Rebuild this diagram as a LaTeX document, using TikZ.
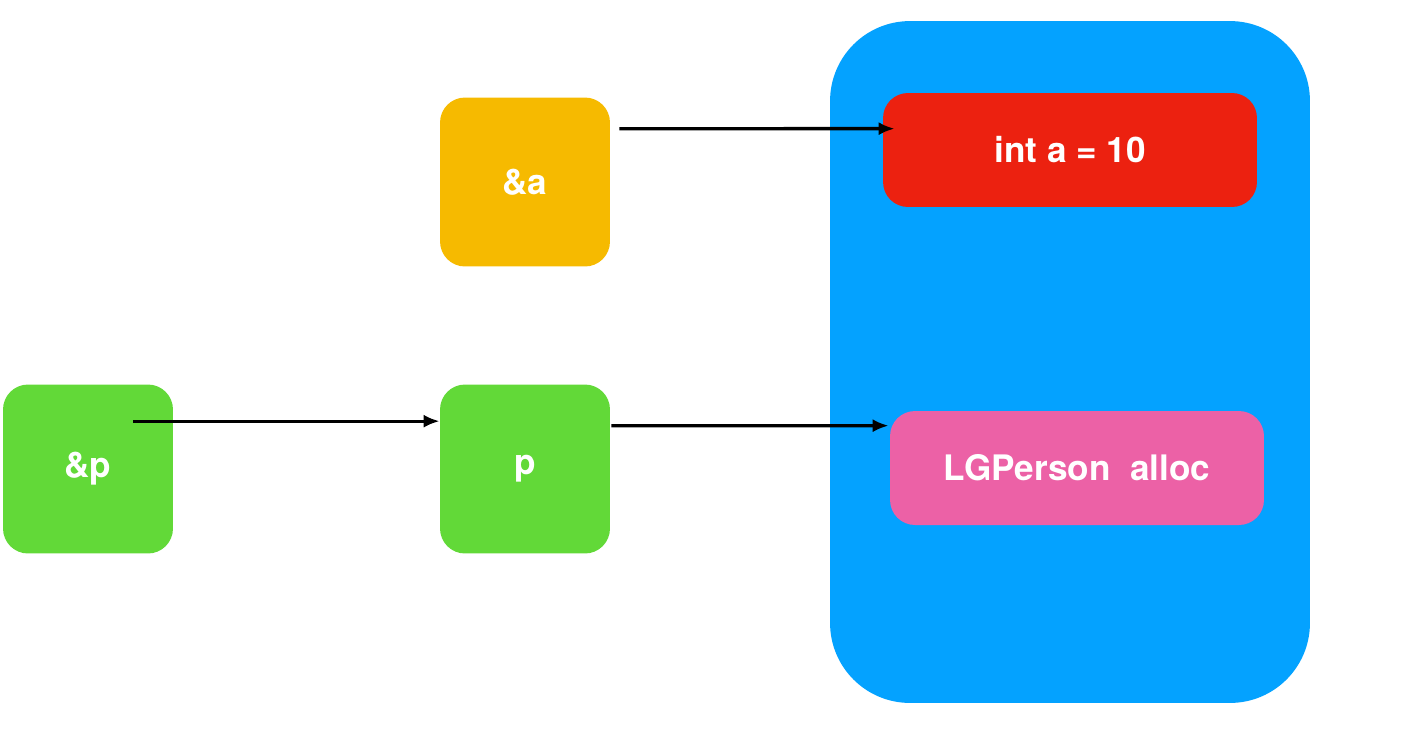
\documentclass[tikz,border=0pt]{standalone}
\usepackage{fontspec}
\setmainfont{TeX Gyre Heros}
\usetikzlibrary{arrows.meta}

\definecolor{heapblue}{HTML}{04A2FF}
\definecolor{varred}{HTML}{EC2110}
\definecolor{objpink}{HTML}{EC61A6}
\definecolor{addrorange}{HTML}{F6BA00}
\definecolor{ptrgreen}{HTML}{62D938}

\begin{document}
\begin{tikzpicture}[x=0.02cm, y=-0.02cm,
    cell/.style={rectangle, rounded corners=0.5cm, minimum width=3.4cm, minimum height=3.38cm,
        text=white, font=\fontsize{20}{24}\selectfont\bfseries},
    slot/.style={cell, minimum width=7.48cm, minimum height=2.28cm},
    ptr/.style={-{Latex[length=0.32cm, width=0.26cm]}, line width=1.9pt}]
    \useasboundingbox (0,0) rectangle (1406,738);

    \node[fill=heapblue, rectangle, rounded corners=1.6cm, minimum width=9.6cm, minimum height=13.64cm] (heap) at (1070,362) {};
    \node[slot, fill=varred] (inta) at (1070,150) {int a = 10};
    \node[slot, fill=objpink] (obj) at (1077,468) {LGPerson\ \ alloc};

    \node[cell, fill=addrorange] (addra) at (525,182) {\&a};
    \node[cell, fill=ptrgreen] (addrp) at (88,469) {\&p};
    \node[cell, fill=ptrgreen] (p) at (525,469) {p};

    \draw[ptr] ([shift={(9,31.5)}]addra.north east) -- ([shift={(12,36)}]inta.north west);
    \draw[ptr] ([shift={(-40,37)}]addrp.north east) -- ([shift={(0,37)}]p.north west);
    \draw[ptr] ([shift={(1,41.5)}]p.north east) -- ([shift={(-1,15)}]obj.north west);
\end{tikzpicture}
\end{document}
